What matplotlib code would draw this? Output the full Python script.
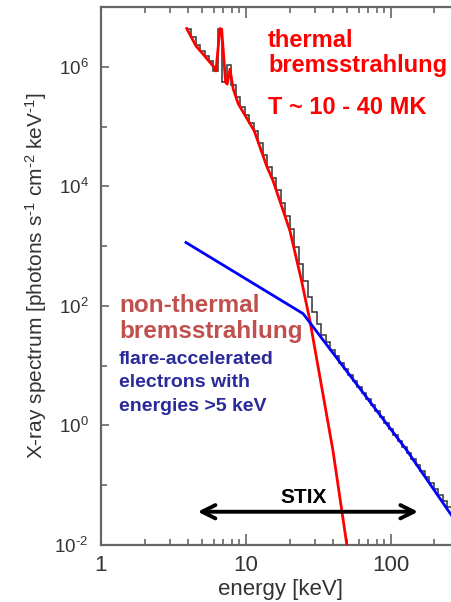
import numpy as np
import matplotlib
matplotlib.use('Agg')
import matplotlib.pyplot as plt
from matplotlib.ticker import FixedLocator, FuncFormatter, NullFormatter

plt.rcParams['font.family'] = ['Liberation Sans', 'DejaVu Sans']
plt.rcParams['mathtext.default'] = 'regular'

# thermal model (red), energy [keV] and log10 flux
thermal_e = [3.90, 4.52, 5.95, 6.21, 6.62, 6.80, 7.24, 7.43, 7.76, 8.17, 8.85,
             11.4, 13.9, 15.4, 20.1, 24.2, 27.6, 39.8, 49.7, 52.0]
thermal_logf = [6.64, 6.35, 6.01, 5.93, 6.64, 6.63, 5.74, 5.71, 5.96, 5.63, 5.38,
                4.93, 4.34, 4.09, 3.26, 2.42, 1.76, -0.41, -2.0, -2.35]

# non-thermal broken power law (blue)
nonthermal_e = [3.86, 24.8, 128.3, 300.0]
nonthermal_logf = [3.06, 1.87, -0.41, -1.71]

# observed spectrum (black steps): bin edges and log10 counts
bin_edges = [3.89, 4.18, 4.49, 4.82, 5.18, 5.56, 5.97, 6.41, 6.89, 7.40, 7.94,
             8.53, 9.16, 9.84, 10.57, 11.35, 12.19, 13.09, 14.06, 15.10, 16.22,
             17.42, 18.71, 20.09, 21.58, 23.17, 24.89, 26.73, 28.71, 30.83, 33.11,
             35.56, 38.19, 41.02, 44.06, 47.32, 50.82, 54.58, 58.61, 62.95, 67.61,
             72.61, 77.98, 83.75, 89.95, 96.61, 103.8, 111.4, 119.7, 128.5, 138.0,
             148.3, 159.2, 171.0, 183.7, 197.2, 211.8, 227.5, 244.3, 262.4, 281.8]
bin_logf = [6.64, 6.50, 6.36, 6.27, 6.18, 6.10, 5.93, 6.64, 5.75, 6.03,
            5.70, 5.49, 5.32, 5.19, 5.06, 4.93, 4.73, 4.52, 4.32, 4.14,
            3.94, 3.72, 3.50, 3.28, 2.98, 2.70, 2.42, 2.15, 1.90, 1.69,
            1.52, 1.39, 1.27, 1.16, 1.05, 0.95, 0.85, 0.75, 0.65, 0.55,
            0.45, 0.35, 0.25, 0.14, 0.04, -0.06, -0.16, -0.26, -0.36, -0.46,
            -0.56, -0.66, -0.77, -0.87, -0.97, -1.07, -1.17, -1.27, -1.37, -1.47]

stix_range = [4.45, 161.0]
stix_level = 0.036

W, H = 452, 602
fig = plt.figure(figsize=(W / 100, H / 100), dpi=100)
ax = fig.add_axes([101 / W, 57 / H, 359 / W, 538 / H])

ax.stairs(10 ** np.array(bin_logf), bin_edges, baseline=None, color='#333333', lw=1.1, zorder=2)
ax.plot(thermal_e, 10 ** np.array(thermal_logf), color='#ff0000', lw=2, zorder=3)
ax.plot(nonthermal_e, 10 ** np.array(nonthermal_logf), color='#0000ff', lw=2, zorder=3)

ax.annotate('', xy=(stix_range[1], stix_level), xytext=(stix_range[0], stix_level),
            arrowprops=dict(arrowstyle='<->', lw=2.8, color='black', mutation_scale=24))

ax.set_xscale('log')
ax.set_yscale('log')
ax.set_xlim(1, 300)
ax.set_ylim(1e-2, 1e7)

def ylab(v, p):
    n = int(round(np.log10(v)))
    s = str(abs(n)) if n >= 0 else '\u2010' + str(abs(n))
    return r'$10^{%s}$' % s

ax.xaxis.set_major_locator(FixedLocator([1, 10, 100]))
ax.xaxis.set_minor_locator(FixedLocator([2, 3, 4, 5, 6, 7, 8, 9, 20, 30, 40, 50, 60, 70, 80, 90, 200]))
ax.xaxis.set_major_formatter(FuncFormatter(lambda v, p: '%d' % round(v)))
ax.xaxis.set_minor_formatter(NullFormatter())
ax.yaxis.set_major_locator(FixedLocator([1e-2, 1, 1e2, 1e4, 1e6]))
ax.yaxis.set_minor_locator(FixedLocator([1e-1, 1e1, 1e3, 1e5]))
ax.yaxis.set_major_formatter(FuncFormatter(ylab))
ax.yaxis.set_minor_formatter(NullFormatter())

ax.tick_params(axis='both', which='both', direction='in', top=True, right=True,
               color='#666666', labelcolor='#333333', width=1.2)
ax.tick_params(axis='x', which='major', length=8, labelsize=16, pad=7)
ax.tick_params(axis='x', which='minor', length=4)
ax.tick_params(axis='y', which='major', length=6, labelsize=13.5, pad=9)
ax.tick_params(axis='y', which='minor', length=4)
for s in ax.spines.values():
    s.set_color('#666666')
    s.set_linewidth(1.6)

ax.set_xlabel('energy [keV]', fontsize=16, color='#333333', labelpad=2)
ax.set_ylabel('X-ray spectrum [photons s$^{\u20101}$ cm$^{\u20102}$ keV$^{\u20101}$]',
              fontsize=15, color='#333333', labelpad=4)

def label(x, y, s, color, size):
    fig.text(x / W, 1 - y / H, s, color=color, fontsize=size, fontweight='bold',
             va='baseline', ha='left')

label(268, 47, 'thermal', '#ff0000', 17)
label(268, 72, 'bremsstrahlung', '#ff0000', 17)
label(268, 114, 'T ~ 10 - 40 MK', '#ff0000', 17)
label(119, 312, 'non-thermal', '#c0504d', 17.5)
label(119, 338, 'bremsstrahlung', '#c0504d', 17.5)
label(119, 364, 'flare-accelerated', '#2a2a9a', 14)
label(119, 387, 'electrons with', '#2a2a9a', 14)
label(119, 411, 'energies >5 keV', '#2a2a9a', 14)
fig.text(304 / W, 1 - 503 / H, 'STIX', color='black', fontsize=15, fontweight='bold',
         va='baseline', ha='center')

fig.savefig('out.png', dpi=100)
